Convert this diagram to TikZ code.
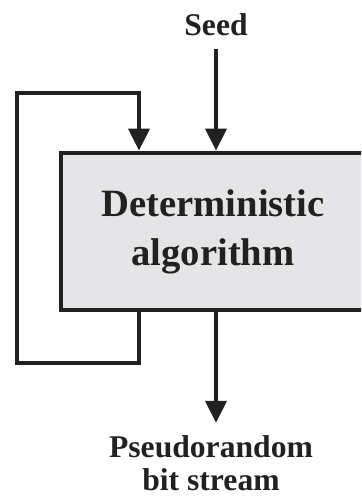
\documentclass[tikz,border=0pt]{standalone}
\usepackage{fontspec}
\setmainfont{Liberation Serif}
\usepackage{tikz}
\usetikzlibrary{arrows.meta,calc,positioning}
\definecolor{inkgray}{rgb}{0.13,0.13,0.13}
\definecolor{boxgray}{rgb}{0.90,0.90,0.91}
\tikzset{
  algobox/.style={
    draw=inkgray,
    fill=boxgray,
    line width=2.8pt,
    align=center,
    minimum width=6.08cm,
    minimum height=3.14cm,
    inner sep=0pt,
    font=\fontsize{22}{28}\selectfont\bfseries,
    text=inkgray
  },
  tag/.style={
    align=center,
    inner sep=0pt,
    font=\fontsize{18}{19}\selectfont\bfseries,
    text=inkgray
  },
  arrow/.style={
    -{Triangle[length=4.4mm,width=4.2mm]},
    line width=2.2pt,
    inkgray
  }
}

\begin{document}
\begin{tikzpicture}[x=0.02cm,y=-0.02cm]
\clip (0,0) rectangle (361,499);
\useasboundingbox (0,0) rectangle (361,499);
\node[algobox] (algo) at (213,231.5) {Deterministic\\algorithm};
\node[tag] (seed) at (216,25) {Seed};
\node[tag] (out) at (211,463) {Pseudorandom\\bit stream};
\coordinate (mid) at (216,0);
\coordinate (fb) at (139,0);
\coordinate (lo) at (17,363);
\coordinate (hi) at (17,93);
\draw[arrow] ($(seed.south -| mid)+(0,13)$) -- (algo.north -| mid);
\draw[arrow] (algo.south -| fb) |- (lo) -- (hi) -| (algo.north -| fb);
\draw[arrow] (algo.south -| mid) -- ($(out.north -| mid)+(0,-12)$);
\end{tikzpicture}
\end{document}
